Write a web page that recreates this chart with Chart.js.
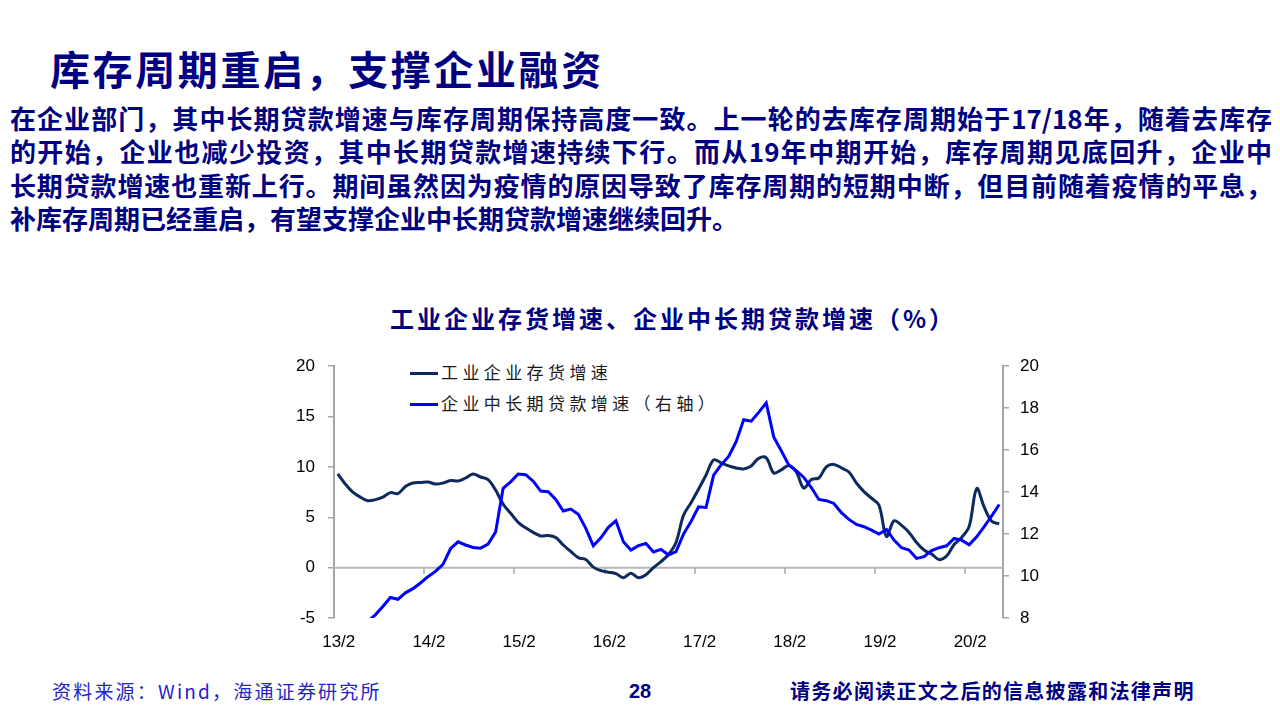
<!DOCTYPE html>
<html>
<head>
<meta charset="utf-8">
<script src="https://cdn.jsdelivr.net/npm/chart.js@4.4.1/dist/chart.umd.min.js"></script>
<style>
  body { margin: 0; width: 1280px; height: 720px; background: #fff; position: relative; overflow: hidden;
         font-family: "Noto Sans CJK SC", sans-serif; }
  .title { position: absolute; left: 50px; top: 40px; font-size: 40px; font-weight: 700; color: #000080;
           letter-spacing: 2.6px; line-height: 56px; white-space: nowrap; }
  .body { position: absolute; left: 10px; top: 101px; width: 1262px; font-size: 26px; font-weight: 700;
          color: #000080; line-height: 33.4px; }
  .body div { white-space: nowrap; }
  .body .j { text-align: justify; text-align-last: justify; white-space: normal; }
  .ctitle { position: absolute; left: 390px; top: 301px; font-size: 24px; font-weight: 700; color: #000080;
            letter-spacing: 3px; line-height: 34px; white-space: nowrap; }
  .legend { position: absolute; left: 410px; font-size: 17px; color: #1a1a1a; letter-spacing: 4.4px;
            line-height: 22px; white-space: nowrap; }
  .legend span { display: inline-block; width: 28px; height: 3px; vertical-align: middle; margin-right: 3px;
                 position: relative; top: -1px; }
  #wrap { position: absolute; left: 240px; top: 343px; width: 840px; height: 327px; }
  .foot { position: absolute; top: 678px; line-height: 26px; white-space: nowrap; }
</style>
</head>
<body>
<div class="title">库存周期重启，支撑企业融资</div>
<div class="body">
  <div class="j">在企业部门，其中长期贷款增速与库存周期保持高度一致。上一轮的去库存周期始于17/18年，随着去库存</div>
  <div class="j">的开始，企业也减少投资，其中长期贷款增速持续下行。而从19年中期开始，库存周期见底回升，企业中</div>
  <div class="j">长期贷款增速也重新上行。期间虽然因为疫情的原因导致了库存周期的短期中断，但目前随着疫情的平息，</div>
  <div>补库存周期已经重启，有望支撑企业中长期贷款增速继续回升。</div>
</div>
<div class="ctitle">工业企业存货增速、企业中长期贷款增速（%）</div>
<div class="legend" style="top:361px"><span style="background:#0c2a5b"></span>工业企业存货增速</div>
<div class="legend" style="top:392px"><span style="background:#0000ff"></span>企业中长期贷款增速（右轴）</div>
<div id="wrap"><canvas id="grafico"></canvas></div>
<div class="foot" style="left:52px;font-size:19px;color:#2323c8;letter-spacing:2.2px">资料来源：Wind，海通证券研究所</div>
<div class="foot" style="left:629px;font-size:20px;font-weight:700;color:#000080;font-family:'Liberation Sans',sans-serif">28</div>
<div class="foot" style="left:790px;font-size:20px;font-weight:700;color:#000080;letter-spacing:1.3px">请务必阅读正文之后的信息披露和法律声明</div>
<script>
// meses de 2013/02 a 2020/06
const labels = [];
for (let k = 0; k < 89; k++) {
  const m = (1 + k) % 12 + 1;
  const a = 13 + Math.floor((1 + k) / 12);
  labels.push(a + '/' + m);
}

// 工业企业存货增速 (eixo esquerdo)
const estoque = [
  9.3, 8.3, 7.5, 7.0, 6.65, 6.75, 7.0, 7.45, 7.35, 8.05,
  8.4, 8.45, 8.5, 8.3, 8.4, 8.65, 8.6, 8.9, 9.3, 9.0,
  8.75, 7.7, 6.3, 5.4, 4.5, 3.95, 3.5, 3.15, 3.2, 3.0,
  2.25, 1.6, 1.0, 0.8, 0.05, -0.3, -0.45, -0.6, -1.0, -0.55,
  -1.0, -0.7, 0.0, 0.6, 1.3, 2.5, 5.2, 6.45, 7.8, 9.2,
  10.7, 10.4, 10.1, 9.9, 9.8, 10.1, 10.85, 10.9, 9.4, 9.7,
  10.15, 9.5, 7.9, 8.75, 8.9, 10.0, 10.25, 9.9, 9.5, 8.4,
  7.55, 6.9, 6.2, 3.1, 4.65, 4.2, 3.5, 2.5, 1.75, 1.35,
  0.8, 1.15, 2.3, 3.0, 4.1, 7.85, 6.0, 4.6, 4.35
];

// 企业中长期贷款增速 (eixo direito)
const emprestimo = [
  null, null, null, null, 7.85, 8.15, 8.55, 8.98, 8.89, 9.2,
  9.4, 9.67, 9.97, 10.22, 10.56, 11.3, 11.63, 11.48, 11.36, 11.33,
  11.52, 12.1, 14.18, 14.49, 14.86, 14.83, 14.52, 14.05, 14.02, 13.65,
  13.1, 13.19, 12.94, 12.27, 11.44, 11.82, 12.32, 12.63, 11.63, 11.24,
  11.45, 11.55, 11.15, 11.27, 11.0, 11.16, 12.0, 12.6, 13.3, 13.27,
  14.81, 15.3, 15.7, 16.4, 17.45, 17.38, 17.8, 18.25, 16.63, 15.97,
  15.29, 15.02, 14.7, 14.22, 13.65, 13.59, 13.46, 13.02, 12.7, 12.46,
  12.35, 12.19, 12.0, 12.22, 11.71, 11.35, 11.24, 10.84, 10.92, 11.21,
  11.35, 11.44, 11.79, 11.71, 11.49, 11.87, 12.35, 12.87, 13.41
];

const ticksEsq = { min: -5, max: 20, step: 5 };
const ticksDir = { min: 8, max: 20, step: 2 };

const corEixo = '#a6a6a6';

// linha do zero com marcas dos anos
const eixoZero = {
  id: 'eixoZero',
  beforeDatasetsDraw(chart) {
    const { ctx, chartArea, scales } = chart;
    const y0 = scales.y.getPixelForValue(0);
    const half = (scales.x.getPixelForValue(1) - scales.x.getPixelForValue(0)) / 2;
    ctx.save();
    ctx.strokeStyle = '#b8b8b8';
    ctx.lineWidth = 2;
    ctx.beginPath();
    ctx.moveTo(chartArea.left, y0);
    ctx.lineTo(chartArea.right, y0);
    for (let i = 12; i < labels.length; i += 12) {
      const px = Math.round(scales.x.getPixelForValue(i) - half);
      ctx.moveTo(px, y0);
      ctx.lineTo(px, y0 + 6);
    }
    ctx.stroke();
    ctx.restore();
  }
};

const fonte = { family: "'Liberation Sans', Arial, sans-serif", size: 17 };

new Chart(document.getElementById('grafico'), {
  type: 'line',
  data: {
    labels: labels,
    datasets: [
      {
        label: '工业企业存货增速',
        data: estoque,
        yAxisID: 'y',
        borderColor: '#0c2a5b',
        borderWidth: 3,
        pointRadius: 0,
        tension: 0.35,
        fill: false,
        order: 1
      },
      {
        label: '企业中长期贷款增速（右轴）',
        data: emprestimo,
        yAxisID: 'y1',
        borderColor: '#0000ff',
        borderWidth: 3,
        pointRadius: 0,
        tension: 0,
        fill: false,
        clip: 0,
        order: 0
      }
    ]
  },
  options: {
    animation: false,
    responsive: true,
    maintainAspectRatio: false,
    layout: { padding: { top: 10, left: 0, right: 0, bottom: 0 } },
    plugins: { legend: { display: false }, tooltip: { enabled: false } },
    scales: {
      x: {
        type: 'category',
        offset: true,
        grid: { display: false },
        border: { display: false },
        ticks: {
          autoSkip: false,
          maxRotation: 0,
          padding: 6,
          labelOffset: 1,
          color: '#000',
          font: fonte,
          callback: (v, i) => (i % 12 === 0 ? labels[i] : '')
        },
        afterFit: (s) => { s.height = 52; }
      },
      y: {
        position: 'left',
        min: ticksEsq.min,
        max: ticksEsq.max,
        ticks: { stepSize: ticksEsq.step, padding: 13, color: '#000', font: fonte },
        grid: { drawOnChartArea: false, drawTicks: true, tickLength: 6, color: corEixo, lineWidth: 1.5 },
        border: { display: true, color: corEixo, width: 2 },
        afterFit: (s) => { s.width = 94; }
      },
      y1: {
        position: 'right',
        min: ticksDir.min,
        max: ticksDir.max,
        ticks: { stepSize: ticksDir.step, padding: 11, color: '#000', font: fonte },
        grid: { drawOnChartArea: false, drawTicks: true, tickLength: 6, color: corEixo, lineWidth: 1.5 },
        border: { display: true, color: corEixo, width: 2 },
        afterFit: (s) => { s.width = 77; }
      }
    }
  },
  plugins: [eixoZero]
});
</script>
</body>
</html>
